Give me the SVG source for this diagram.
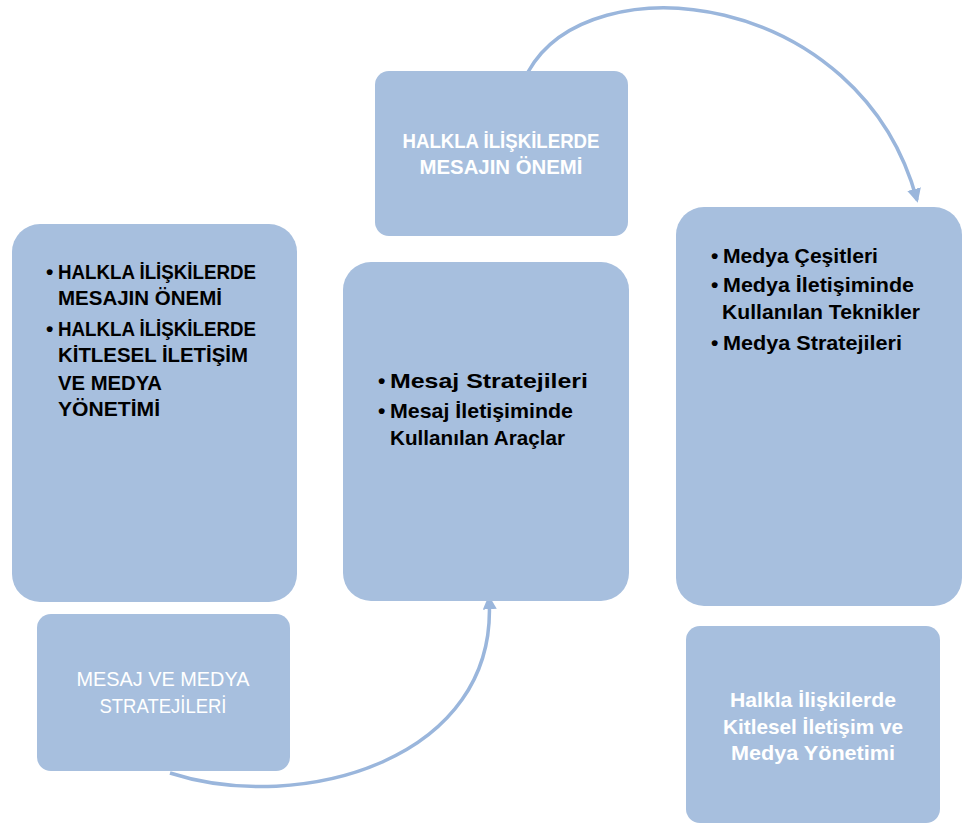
<svg xmlns="http://www.w3.org/2000/svg" width="967" height="825" viewBox="0 0 967 825">
<defs>
<style>
.box{fill:#a7bfde;}
.b{font-family:"Liberation Sans",Arial,sans-serif;font-weight:bold;font-size:21px;fill:#000;}
.w{font-family:"Liberation Sans",Arial,sans-serif;font-weight:bold;font-size:21px;fill:#fff;text-anchor:middle;}
.wr{font-family:"Liberation Sans",Arial,sans-serif;font-size:21px;fill:#fff;text-anchor:middle;}
.con{fill:none;stroke:#9ab6dc;stroke-width:3.5;}
</style>
<marker id="ah" viewBox="0 0 10 10" refX="8" refY="5" markerWidth="4" markerHeight="4" orient="auto" markerUnits="strokeWidth">
<path d="M0,0 L10,5 L0,10 z" fill="#9ab6dc"/>
</marker>
</defs>
<rect width="967" height="825" fill="#fff"/>
<g id="connectors">
<path class="con" d="M528,72 C590,-40 860,-10 917,200" marker-end="url(#ah)"/>
<path class="con" d="M170,773 C300,815 500,760 489,598" marker-end="url(#ah)"/>
</g>
<g id="left-list">
<rect class="box" x="12" y="224" width="285" height="378" rx="28"/>
<text class="b" x="46" y="279">•</text>
<text class="b" x="58" y="279" textLength="198" lengthAdjust="spacingAndGlyphs">HALKLA İLİŞKİLERDE</text>
<text class="b" x="58" y="305" textLength="164" lengthAdjust="spacingAndGlyphs">MESAJIN ÖNEMİ</text>
<text class="b" x="46" y="336">•</text>
<text class="b" x="58" y="336" textLength="198" lengthAdjust="spacingAndGlyphs">HALKLA İLİŞKİLERDE</text>
<text class="b" x="58" y="362" textLength="190" lengthAdjust="spacingAndGlyphs">KİTLESEL İLETİŞİM</text>
<text class="b" x="58" y="390" textLength="104" lengthAdjust="spacingAndGlyphs">VE MEDYA</text>
<text class="b" x="58" y="416" textLength="102" lengthAdjust="spacingAndGlyphs">YÖNETİMİ</text>
</g>
<g id="left-title">
<rect class="box" x="37" y="614" width="253" height="157" rx="14"/>
<text class="wr" x="163" y="686" textLength="173" lengthAdjust="spacingAndGlyphs">MESAJ VE MEDYA</text>
<text class="wr" x="163" y="713" textLength="127" lengthAdjust="spacingAndGlyphs">STRATEJİLERİ</text>
</g>
<g id="mid-list">
<rect class="box" x="343" y="262" width="286" height="339" rx="28"/>
<text class="b" x="378" y="388">•</text>
<text class="b" x="390" y="388" textLength="198" lengthAdjust="spacingAndGlyphs">Mesaj Stratejileri</text>
<text class="b" x="378" y="418">•</text>
<text class="b" x="390" y="418" textLength="183" lengthAdjust="spacingAndGlyphs">Mesaj İletişiminde</text>
<text class="b" x="390" y="445" textLength="175" lengthAdjust="spacingAndGlyphs">Kullanılan Araçlar</text>
</g>
<g id="top-title">
<rect class="box" x="375" y="71" width="253" height="165" rx="14"/>
<text class="w" x="501" y="148" textLength="197" lengthAdjust="spacingAndGlyphs">HALKLA İLİŞKİLERDE</text>
<text class="w" x="501" y="174" textLength="163" lengthAdjust="spacingAndGlyphs">MESAJIN ÖNEMİ</text>
</g>
<g id="right-list">
<rect class="box" x="676" y="207" width="286" height="399" rx="28"/>
<text class="b" x="711" y="263">•</text>
<text class="b" x="723" y="263" textLength="155" lengthAdjust="spacingAndGlyphs">Medya Çeşitleri</text>
<text class="b" x="711" y="292">•</text>
<text class="b" x="723" y="292" textLength="191" lengthAdjust="spacingAndGlyphs">Medya İletişiminde</text>
<text class="b" x="722" y="319" textLength="198" lengthAdjust="spacingAndGlyphs">Kullanılan Teknikler</text>
<text class="b" x="711" y="350">•</text>
<text class="b" x="723" y="350" textLength="179" lengthAdjust="spacingAndGlyphs">Medya Stratejileri</text>
</g>
<g id="right-title">
<rect class="box" x="686" y="626" width="254" height="197" rx="14"/>
<text class="w" x="813" y="707" textLength="166" lengthAdjust="spacingAndGlyphs">Halkla İlişkilerde</text>
<text class="w" x="813" y="734" textLength="180" lengthAdjust="spacingAndGlyphs">Kitlesel İletişim ve</text>
<text class="w" x="813" y="760" textLength="164" lengthAdjust="spacingAndGlyphs">Medya Yönetimi</text>
</g>
</svg>
